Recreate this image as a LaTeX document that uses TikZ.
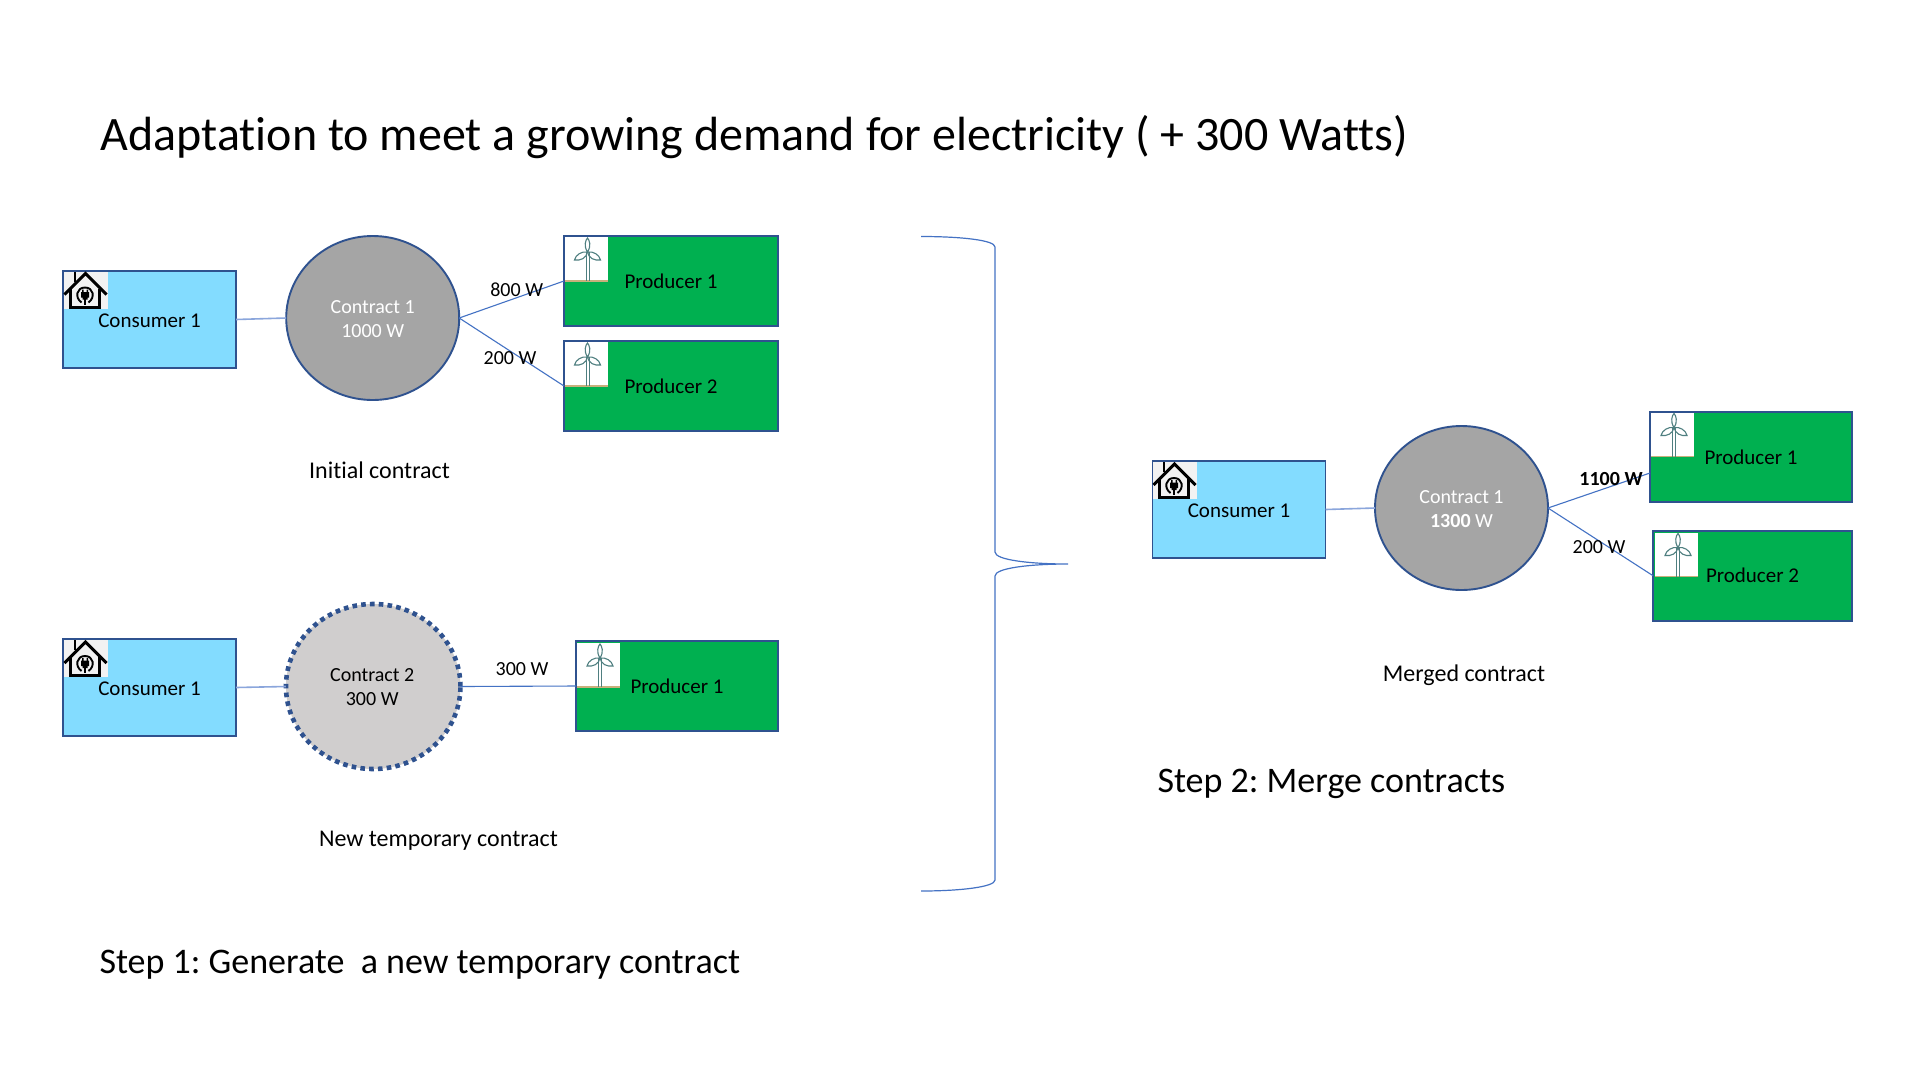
\documentclass[tikz,border=0pt]{standalone}
\usepackage{fontspec}
\setmainfont{Carlito}[Ligatures=NoCommon]
\usetikzlibrary{shapes.geometric}
\definecolor{edgeblue}{HTML}{2F528F}
\definecolor{linkblue}{HTML}{4472C4}
\definecolor{softblue}{HTML}{8BA6DC}
\definecolor{skyfill}{HTML}{83DCFF}
\definecolor{greenfill}{HTML}{00B050}
\definecolor{greyfill}{HTML}{A5A5A5}
\definecolor{paleGrey}{HTML}{D0CECE}
\definecolor{bladecol}{HTML}{4F7F80}
\definecolor{groundcol}{HTML}{C8B07C}
\newcommand{\fs}[2][1.2]{\fontsize{#2}{#1\dimexpr #2pt\relax}\selectfont}
\newcommand{\consumerlabel}{\raisebox{-7.7pt}[0pt][0pt]{Consumer 1}}
\tikzset{
  base/.style={inner sep=0pt,outer sep=0pt,align=center,font=\fs{21}},
  consumerbox/.style={base,rectangle,draw=edgeblue,line width=1.9pt,fill=skyfill,minimum width=173pt,minimum height=97pt},
  producerbox/.style={base,rectangle,draw=edgeblue,line width=1.9pt,fill=greenfill},
  contractdisc/.style={base,ellipse,draw=edgeblue,line width=1.9pt,fill=greyfill,text=white,minimum width=173pt,minimum height=164pt,font=\fs{20}},
  tempdisc/.style={base,ellipse,draw=edgeblue,line width=4.6pt,dash pattern=on 4.6pt off 4.2pt,fill=paleGrey,minimum width=174.5pt,minimum height=165pt},
  caption/.style={base,font=\fs{24}},
  wattlabel/.style={base,font=\fs{20}},
  heading/.style={base,anchor=west,font=\fs{36}},
  softlink/.style={draw=softblue,line width=1.6pt},
  link/.style={draw=linkblue,line width=1.1pt},
  bracket/.style={draw=linkblue,line width=1.2pt},
  housepic/.pic={
    \fill[white!95!black] (0,0) rectangle (44,37);
    \draw[black,line width=3pt,line join=miter] (1,23) -- (22,2) -- (43,23);
    \draw[black,line width=3pt] (7,17) -- (7,35.5) -- (36,35.5) -- (36,17);
    \draw[black,line width=2pt] (11,0) -- (11,10);
    \draw[black,line width=1.9pt] (18,31) .. controls (11,26) and (13,16) .. (21.5,16) .. controls (30,16) and (32,26) .. (25,31);
    \fill[black] (17.5,20.5) rectangle (25.5,26) (19,26) rectangle (24,28);
    \fill[black] (18.5,18) rectangle (20,21) (23,18) rectangle (24.5,21);
    \draw[black,line width=1.6pt] (21.5,27) -- (21.5,33);
  },
  turbinepic/.pic={
    \fill[white] (0,0) rectangle (43,44);
    \draw[groundcol,line width=1.2pt] (0,44) -- (43,44);
    \draw[bladecol,line width=1pt] (21.5,15) -- (21.5,44) (24.5,15) -- (24.5,44);
    \draw[bladecol,line width=1.1pt] (23,15) .. controls (19,9) and (21,3) .. (23,1) .. controls (25,3) and (27,9) .. (23,15);
    \draw[bladecol,line width=1.1pt] (23,15) .. controls (17,14) and (11,18) .. (10,23) .. controls (16,24) and (22,21) .. (23,15);
    \draw[bladecol,line width=1.1pt] (23,15) .. controls (29,14) and (35,18) .. (36,23) .. controls (30,24) and (24,21) .. (23,15);
  }
}
\begin{document}
\frenchspacing
\begin{tikzpicture}[x=1pt,y=-1pt]
\useasboundingbox[fill=white] (0,0) rectangle (1920,1080);

% boxes and discs
\node[consumerbox] (consA) at (149.5,319.5) {\consumerlabel};
\node[contractdisc] (contA) at (372.7,318) {};
\node[base,font=\fs{20},text=white] (contAtext) at (372.7,319) {Contract 1\\1000 W};
\node[producerbox,minimum width=214pt,minimum height=90pt] (prodA) at (671,281) {Producer 1};
\node[producerbox,minimum width=214pt,minimum height=90pt] (prodB) at (671,386) {Producer 2};

\node[consumerbox] (consB) at (149.5,687.5) {\consumerlabel};
\node[tempdisc] (contB) at (373.2,686.5) {};
\node[base,font=\fs{20}] (contBtext) at (372.2,687.5) {Contract 2\\300 W};
\node[producerbox,minimum width=202pt,minimum height=90pt] (prodC) at (677,686) {Producer 1};

\node[consumerbox] (consC) at (1239,509.5) {\consumerlabel};
\node[contractdisc] (contC) at (1461.5,508) {};
\node[base,font=\fs{20},text=white] (contCtext) at (1461.5,509) {Contract 1\\\textbf{1300} W};
\node[producerbox,minimum width=202pt,minimum height=90pt] (prodD) at (1751,457) {Producer 1};
\node[producerbox,minimum width=199pt,minimum height=90pt] (prodE) at (1752.5,575.7) {Producer 2};

% connectors
\draw[softlink] (consA.east) -- (contA.west);
\draw[link] (contA.east) -- (prodA.west);
\draw[link] (contA.east) -- (prodB.west);
\draw[softlink] (consB.east) -- (contB.west);
\draw[link] (contB.east) -- (prodC.west);
\draw[softlink] (consC.east) -- (contC.west);
\draw[link] (contC.east) -- ([yshift=-16pt]prodD.west);
\draw[link] (contC.east) -- (prodE.west);

% icons
\pic at (63.5,271.5) {housepic};
\pic at (63.5,640) {housepic};
\pic at (1152.5,462) {housepic};
\pic at (564.5,237) {turbinepic};
\pic at (564.5,342) {turbinepic};
\pic at (577,643) {turbinepic};
\pic at (1651,412.5) {turbinepic};
\pic at (1655,532.5) {turbinepic};

% labels
\node[wattlabel] (lblA) at (516.7,290) {800 W};
\node[wattlabel] (lblB) at (510,358) {200 W};
\node[wattlabel] (lblC) at (522,669) {300 W};
\node[wattlabel,font=\fs{20}\bfseries] (lblD) at (1611,478.5) {1100 W};
\node[wattlabel] (lblE) at (1599,547) {200 W};

\node[caption] (capA) at (379.5,470.5) {Initial contract};
\node[caption] (capB) at (438.4,841) {New temporary contract};
\node[caption] (capC) at (1464,675) {Merged contract};

\node[heading,font=\fs{48}] (title) at (100.8,137.5) {Adaptation to meet a growing demand for electricity ( + 300 Watts)};
\node[heading] (stepA) at (99.5,964.5) {Step 1: Generate\ \ a new temporary contract};
\node[heading] (stepB) at (1157.5,784) {Step 2: Merge contracts};

% bracket
\coordinate (brTop) at (921,236.5);
\coordinate (brBot) at (921,891);
\coordinate (brTip) at (1068,564);
\draw[bracket] (brTop) .. controls (960,236.5) and (995,240) .. (995,247)
  -- (995,552) .. controls (995,560) and (1030,564) .. (brTip)
  .. controls (1030,564) and (995,568) .. (995,576)
  -- (995,880) .. controls (995,887) and (960,891) .. (brBot);
\end{tikzpicture}
\end{document}
